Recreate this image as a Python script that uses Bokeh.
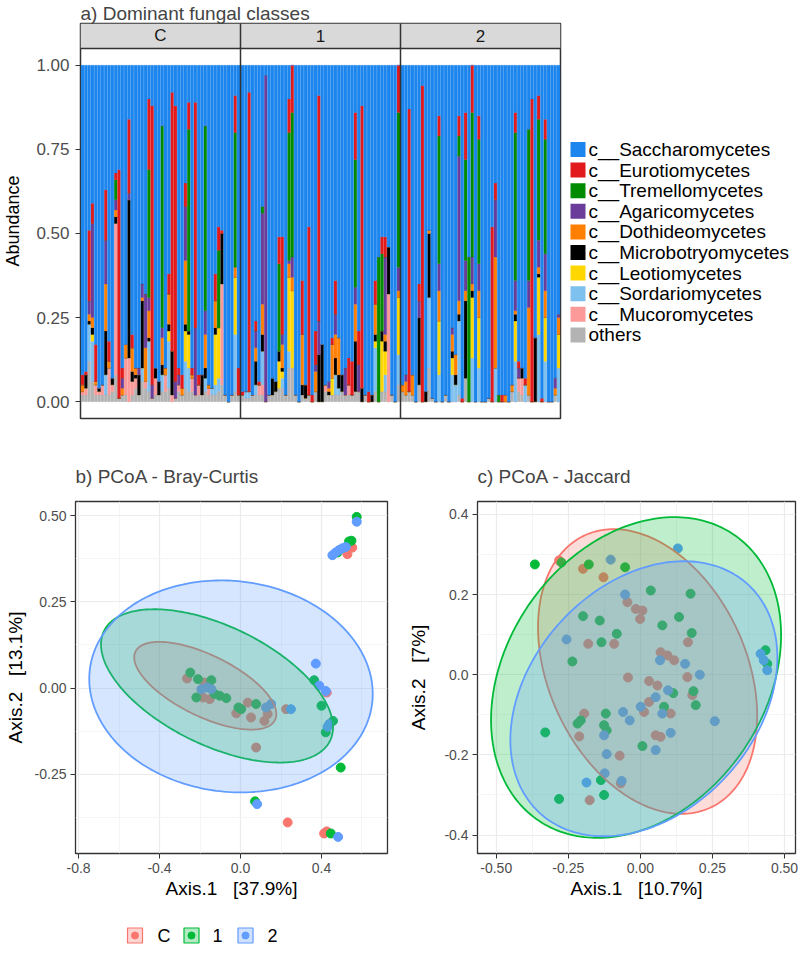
import numpy as np
from bokeh.plotting import figure
from bokeh.models import ColumnDataSource, Range1d, FixedTicker, PrintfTickFormatter
from bokeh.layouts import column, row
from bokeh.embed import file_html
from bokeh.resources import INLINE
from bokeh.core.properties import value

FONT = "Liberation Sans"

# ------------------------------------------------------------------ data: panel a
facets = ["C", "1", "2"]
class_keys = ["oth", "muc", "sor", "leo", "mic", "dot", "aga", "tre", "eur", "sac"]
class_labels = ["others", "c__Mucoromycetes", "c__Sordariomycetes", "c__Leotiomycetes",
                "c__Microbotryomycetes", "c__Dothideomycetes", "c__Agaricomycetes",
                "c__Tremellomycetes", "c__Eurotiomycetes", "c__Saccharomycetes"]
class_colors = ["#B3B3B3", "#FB9A99", "#7EC0EE", "#FFD700", "#000000", "#FF7F00",
                "#6A3D9A", "#008B00", "#E31A1C", "#1C86EE"]

oth_C = [.02,.02,.12,.06,.02,.02,.02,.02,.02,.03, .08,.01,.02,.02,0,.02,.04,.02,.06,.04,
         .03,.01,.02,.02,.03,.03,.04,0,.01,.03, .02,.04,.03,.03,.02,.02,.02,.03,.02,.02,
         .02,.03,.05,.02,0,.02,.03,.02]
muc_C = [.01,.02,0,0,.03,.01,.03,0,.08,.02, .45,0,0,.11,.13,.04,.03,0,0,.02,
         0,0,.05,0,0,.05,0,.02,0,.02, 0,0,0,.04,0,.03,0,0,.02,0,
         0,0,.30,0,0,0,0,0]
sor_C = [0,0,.11,.12,0,0,0,.06,0,0, 0,0,0,0,0,0,0,0,.04,0,
         .15,0,0,0,.05,0,.14,0,0,0, 0,.08,.07,0,0,0,0,.04,0,.02,
         .03,.04,0,0,0,0,.17,0]
leo_C = [0,0,0,.02,0,0,0,0,0,0, 0,0,0,0,0,0,0,0,0,0,
         0,0,0,0,0,0,.03,0,0,0, 0,.09,.10,0,0,0,0,0,0,0,
         .15,.15,0,0,0,0,.17,0]
mic_C = [0,.04,.01,.02,0,.01,0,.13,0,.02, .02,0,0,0,.47,.03,.01,.06,.20,0,
         .01,0,.03,.04,.03,0,.02,.13,0,0, 0,.02,.01,0,0,0,.06,.03,0,0,
         .02,0,.15,0,0,0,0,0]
dot_C = [.02,0,.02,.03,.01,0,0,.14,.02,0, .02,0,.02,.04,0,.07,.02,0,.01,.10,
         .08,0,0,0,.08,.02,.09,0,0,0, .02,.19,0,.01,0,0,0,.10,.01,0,
         .08,0,0,0,0,0,.03,0]
aga_C = [0,0,.04,.28,0,0,0,.13,0,0, .03,0,.03,0,.02,0,0,.02,.04,.16,
         .04,.04,0,0,.03,0,0,0,.05,.03, 0,.16,0,0,.20,0,0,.07,0,0,
         0,0,0,0,0,0,0,0]
tre_C = [0,0,0,0,0,0,0,0,0,0, .06,0,0,0,0,0,0,0,0,0,
         .38,0,0,0,.60,0,0,0,0,0, 0,0,.60,0,0,0,0,.55,0,0,
         0,.23,0,0,0,0,.40,0]
eur_C = [.03,.01,.21,.06,.11,0,0,.15,.06,0, .02,.68,.03,0,.22,.04,0,0,0,0,
         .21,.83,0,0,0,0,.06,.77,.82,.02, .04,.07,.08,.02,.67,.03,0,0,0,0,
         .08,.07,.01,0,0,0,.11,.08]

oth_1 = [.02,.01,.01,.02,.02,.02,.02,0,.02,.02, .03,.04,.04,.02,.10,.10,.02,0,.02,.01,
         .02,0,.03,0,0,.03,.02,.02,.02,.02, .03,.02,.02,.02,.03,.03,0,.02,0,0,
         .03,0,.03,.03,0,.02,0,.05]
muc_1 = [0,0,0,0,0,.03,.03,0,0,0, 0,0,0,0,0,0,0,0,0,0,
         0,0,0,0,0,.02,0,0,0,0, 0,0,.03,0,0,0,0,0,0,0,
         0,0,0,0,.32,0,0,0]
sor_1 = [0,.02,.02,0,.03,0,.10,0,0,0, 0,0,.03,0,.05,0,0,0,0,0,
         0,0,0,0,0,0,0,0,.06,.02, 0,0,0,0,0,0,0,0,0,0,
         .13,0,0,.05,0,0,0,.09]
leo_1 = [0,0,0,0,0,0,0,0,0,0, 0,.08,.02,0,.22,.23,0,0,0,0,
         0,0,0,0,0,0,0,.05,0,0, 0,0,0,0,0,0,0,0,0,0,
         .02,0,.15,.07,0,0,0,.17]
mic_1 = [0,0,0,0,.07,0,.05,0,0,.05, .03,.03,.01,0,0,0,0,0,.03,.04,
         0,0,0,.14,.17,0,.01,0,.05,.04, .05,0,0,0,.15,0,.04,0,0,.02,
         .02,0,.03,.03,.14,0,0,0]
dot_1 = [0,0,0,0,.04,0,.09,0,0,0, 0,0,.07,0,.04,.04,0,0,.15,0,
         0,0,.06,0,0,0,.01,.10,.07,.11, 0,0,0,0,.11,0,0,0,0,0,
         .09,0,0,.02,0,0,0,.02]
aga_1 = [0,0,0,0,.05,0,.27,.97,0,0, 0,0,.03,0,.01,.06,0,0,0,0,
         0,0,.02,.10,0,0,.02,0,.06,0, 0,.08,0,0,.05,.08,0,0,0,0,
         0,0,0,.23,0,0,0,.07]
tre_1 = [0,0,0,0,0,0,.02,0,0,0, 0,.26,0,0,.38,.43,0,0,0,0,
         0,0,0,0,0,0,0,0,0,0, 0,0,0,0,.38,0,0,0,0,0,
         0,.43,.23,0,0,0,0,.46]
eur_1 = [.01,0,.89,0,.03,.01,0,0,0,0, 0,.08,.29,0,.10,.14,0,0,.16,0,
         .50,.02,.10,.67,0,0,0,.02,.10,0, 0,0,.08,.10,.14,.10,.84,0,.03,0,
         .07,0,.05,.06,0,0,0,.14]

oth_2 = [.03,.02,.03,.02,0,.05,0,0,.10,.01, 0,0,0,.02,0,0,0,.02,0,.07,
         0,0,0,0,0,0,.01,0,0,0, 0,0,0,.03,0,.03,.02,0,.02,0,
         0,0,0,0,0,0,.02,0]
muc_2 = [0,0,0,0,0,0,0,0,0,0, 0,0,0,0,0,0,0,0,0,0,
         0,0,0,0,0,0,0,0,0,0, 0,0,0,0,0,.04,.05,0,0,0,
         0,0,0,0,0,0,0,0]
sor_2 = [0,0,0,0,0,0,0,0,.21,0, 0,.08,0,0,0,.08,.05,.22,0,0,
         0,.13,0,.10,0,0,0,0,.10,0, 0,0,0,0,.12,0,0,.05,0,0,
         0,.20,0,.12,0,0,0,.10]
leo_2 = [0,0,0,0,0,0,0,0,0,0, 0,.16,0,0,0,.05,0,0,0,0,
         0,.18,0,.15,0,0,0,0,0,0, 0,0,0,0,.12,0,0,0,0,0,
         0,.17,0,.13,0,0,0,.10]
mic_2 = [0,0,0,0,0,.20,0,.03,.19,0, 0,0,0,0,0,.02,.03,.02,0,.23,
         0,.02,0,0,0,0,0,0,0,0, 0,0,0,0,.02,0,.03,0,0,0,
         .19,.01,0,0,0,0,0,0]
dot_2 = [.02,.04,0,.06,0,0,0,0,.01,0, 0,.09,0,0,0,.05,.06,.04,0,.03,
         0,.02,0,.08,0,0,0,0,.33,0, 0,.02,0,.02,.01,0,0,0,.26,0,
         0,.02,0,.08,0,0,.02,.05]
aga_2 = [0,.02,0,0,0,.05,0,0,0,0, 0,.08,0,0,0,.02,0,.43,0,.09,
         0,.08,0,.08,0,0,0,0,.17,0, 0,0,0,0,.09,.03,0,0,.08,0,
         0,.08,0,.11,0,0,.03,.01]
tre_2 = [0,0,0,0,0,0,0,0,0,0, 0,.38,0,0,0,0,0,.06,0,.30,
         .43,.43,0,.37,0,0,0,0,0,.02, 0,0,0,0,.44,0,0,0,.45,0,
         0,.36,0,.34,0,0,0,0]
eur_2 = [0,0,.84,0,0,.05,.94,0,0,0, 0,.06,0,0,0,0,0,.06,.01,.14,
         0,.14,0,.07,0,0,0,.52,.05,0, .02,0,0,0,.06,.02,0,.02,0,.90,
         0,.07,.01,.06,0,0,0,0]

# ------------------------------------------------------------------ data: panels b, c
groups = ["C", "1", "2"]
group_colors = ["#F8766D", "#00BA38", "#619CFF"]

bc_x_C = [0.528,0.552,-0.264,-0.177,-0.185,-0.152,-0.021,0.036,0.052,0.118,0.134,0.225,0.077,0.426,0.233,0.413,0.426]
bc_y_C = [0.388,0.407,0.028,0.016,-0.027,-0.032,-0.073,-0.042,-0.085,-0.095,-0.075,-0.061,-0.172,-0.013,-0.389,-0.421,-0.415]
bc_x_1 = [0.574,0.548,0.536,0.479,-0.248,-0.210,-0.218,-0.144,-0.128,-0.103,-0.070,-0.010,0.003,0.077,0.364,0.400,0.457,0.421,0.495,0.072,0.446]
bc_y_1 = [0.496,0.427,0.425,0.393,0.045,0.026,-0.027,0.023,-0.017,-0.022,-0.029,-0.056,-0.061,-0.046,0.023,-0.051,-0.095,-0.128,-0.230,-0.328,-0.421]
bc_x_2 = [0.574,0.454,0.470,0.487,0.503,0.520,-0.193,-0.164,-0.144,0.126,0.151,0.249,0.372,0.389,0.421,0.430,0.438,0.082,0.482]
bc_y_2 = [0.482,0.385,0.393,0.400,0.405,0.409,-0.003,0.002,-0.003,-0.056,-0.046,-0.061,0.071,0.007,-0.008,-0.112,-0.104,-0.336,-0.431]

jac_x_C = [-0.282,-0.199,-0.128,-0.045,-0.016,0.007,-0.001,-0.181,-0.091,0.165,0.070,0.094,0.117,-0.043,
           0.030,0.059,0.163,0.180,0.030,0.013,0.105,-0.195,-0.212,0.053,0.070,-0.072,-0.176,-0.068]
jac_y_C = [0.285,0.264,0.243,0.181,0.164,0.160,0.139,0.077,0.077,0.081,0.056,0.048,0.036,-0.007,
           -0.016,-0.027,-0.006,-0.051,-0.068,-0.093,-0.097,-0.097,-0.154,-0.151,-0.155,-0.202,-0.313,-0.271]
jac_x_1 = [-0.366,-0.274,-0.179,-0.053,0.036,0.174,-0.199,-0.141,-0.082,-0.135,-0.236,0.076,0.134,0.178,0.434,
           0.440,0.184,0.192,0.082,0.114,-0.120,-0.218,-0.207,-0.126,-0.117,-0.330,0.007,-0.137,-0.126,-0.282]
jac_y_1 = [0.275,0.280,0.275,0.268,0.210,0.202,0.146,0.135,0.102,0.081,0.033,0.123,0.144,0.104,0.061,
           0.027,-0.041,-0.076,-0.080,-0.046,-0.097,-0.122,-0.114,-0.126,-0.139,-0.144,-0.178,-0.263,-0.300,-0.310]
jac_x_2 = [-0.103,0.130,-0.053,-0.256,0.068,0.155,0.206,0.417,0.428,0.440,0.096,0.053,-0.060,-0.037,0.001,
           0.076,0.258,-0.126,0.105,-0.117,0.053,-0.187,-0.124,-0.065]
jac_y_2 = [0.287,0.315,0.200,0.088,0.036,0.027,0.000,0.052,0.036,0.011,-0.039,-0.056,-0.093,-0.114,-0.080,
           -0.097,-0.116,-0.151,-0.145,-0.198,-0.188,-0.269,-0.246,-0.265]

# ellipse summaries: centre x, centre y, x half-extent, y half-extent, correlation
bc_ellipse_C = [-0.174, 0.007, 0.351, 0.127, -0.646]
bc_ellipse_1 = [-0.116, 0.0065, 0.573, 0.222, -0.54]
bc_ellipse_2 = [-0.047, 0.005, 0.700, 0.307, -0.07]
jac_ellipse_C = [0.025, 0.008, 0.380, 0.355, -0.31]
jac_ellipse_1 = [-0.015, -0.007, 0.503, 0.400, 0.265]
jac_ellipse_2 = [0.012, -0.060, 0.463, 0.343, 0.30]

# ------------------------------------------------------------------ panel a
facet_data = {
    "C": [oth_C, muc_C, sor_C, leo_C, mic_C, dot_C, aga_C, tre_C, eur_C],
    "1": [oth_1, muc_1, sor_1, leo_1, mic_1, dot_1, aga_1, tre_1, eur_1],
    "2": [oth_2, muc_2, sor_2, leo_2, mic_2, dot_2, aga_2, tre_2, eur_2],
}
n_bars = len(oth_C)
W = n_bars + 0.2
cols = {k: [] for k in class_keys}
xs = []
for fi, f in enumerate(facets):
    arrs = facet_data[f]
    for i in range(n_bars):
        xs.append(fi * W + i + 0.6)
        tot = 0.0
        for k, arr in zip(class_keys[:-1], arrs):
            cols[k].append(arr[i])
            tot += arr[i]
        cols["sac"].append(max(0.0, round(1.0 - tot, 4)))
src = ColumnDataSource(dict(x=xs, **cols))

YLO, YSTRIP = -0.05, 1.05
YTOP = 1.1243
TOP_H = 442
PA_W = 562
FRAME_TOP, FRAME_BOT = 23, 418

pa = figure(width=PA_W, height=TOP_H, x_range=Range1d(0, 3 * W), y_range=Range1d(YLO, YTOP),
            x_axis_location=None, toolbar_location=None, output_backend="svg",
            min_border_left=79, min_border_right=2, min_border_top=FRAME_TOP,
            min_border_bottom=TOP_H - FRAME_BOT)
pa.grid.visible = False
pa.background_fill_color = "white"
pa.outline_line_color = "#333333"
pa.outline_line_width = 1.5

rs = pa.vbar_stack(class_keys, x="x", width=0.9, source=src,
                   fill_color=class_colors, line_color=class_colors, line_width=0.3)

# facet strips
pa.quad(left=[fi * W for fi in range(3)], right=[(fi + 1) * W for fi in range(3)],
        bottom=YSTRIP, top=YTOP, fill_color="#D9D9D9", line_color=None)
pa.text(x=[(fi + 0.5) * W for fi in range(3)], y=[(YSTRIP + YTOP) / 2] * 3, text=facets,
        text_align="center", text_baseline="middle", text_font=value(FONT),
        text_font_size="17px", text_color="#1A1A1A")
pa.segment(x0=[W, 2 * W], y0=[YLO, YLO], x1=[W, 2 * W], y1=[YTOP, YTOP],
           line_color="#333333", line_width=1.5)
pa.segment(x0=[0], y0=[YSTRIP], x1=[3 * W], y1=[YSTRIP], line_color="#333333", line_width=1.5)

ya = pa.yaxis[0]
ya.ticker = FixedTicker(ticks=[0, 0.25, 0.5, 0.75, 1.0])
ya.formatter = PrintfTickFormatter(format="%.2f")
ya.axis_line_color = None
ya.minor_tick_line_color = None
ya.major_tick_out = 5
ya.major_tick_in = 0
ya.major_tick_line_color = "#333333"
ya.major_label_text_font = FONT
ya.major_label_text_font_size = "17px"
ya.major_label_text_color = "#4D4D4D"
ya.major_label_standoff = 6
ya.axis_label = "Abundance"
ya.axis_label_text_font = FONT
ya.axis_label_text_font_size = "18px"
ya.axis_label_text_font_style = "normal"
ya.axis_label_text_color = "black"
ya.axis_label_standoff = 10

pa.title.text = "a) Dominant fungal classes"
pa.title.text_font = FONT
pa.title.text_font_size = "19px"
pa.title.text_font_style = "normal"
pa.title.align = "left"
pa.title.standoff = 0

# legend of panel a, drawn on its own small canvas; its frame is aligned with panel a's frame,
# so its y range is expressed in page pixels (downwards)
LEG_W = 800 - PA_W
pla = figure(width=LEG_W, height=TOP_H, x_range=Range1d(0, LEG_W),
             y_range=Range1d(FRAME_BOT, FRAME_TOP),
             toolbar_location=None, output_backend="svg", min_border=0, title=None,
             min_border_top=FRAME_TOP, min_border_bottom=TOP_H - FRAME_BOT,
             x_axis_location=None, y_axis_location=None)
pla.grid.visible = False
pla.outline_line_color = None
leg_order = list(reversed(range(len(class_keys))))
key_y = [149 + 20.6 * k for k in range(len(leg_order))]
pla.rect(x=[15.5] * len(leg_order), y=key_y, width=15, height=15,
         fill_color=[class_colors[j] for j in leg_order], line_color=None)
pla.text(x=[26] * len(leg_order), y=key_y, text=[class_labels[j] for j in leg_order],
         text_align="left", text_baseline="middle", text_font=value(FONT),
         text_font_size="19px", text_color="black")


# ------------------------------------------------------------------ panels b, c
def ellipse_xy(par):
    cx, cy, rx, ry, rho = par
    t = np.linspace(0, 2 * np.pi, 241)
    ex = cx + rx * np.cos(t)
    ey = cy + ry * (rho * np.cos(t) + np.sqrt(1 - rho ** 2) * np.sin(t))
    return ex.tolist(), ey.tolist()


BOT_H = 461


def pcoa(title, width, mbl, mbr, ylab_standoff, xr, yr, xt, xmin, xfmt, yt, ymin, yfmt,
         xlab, ylab, pts, ells):
    p = figure(width=width, height=BOT_H, x_range=Range1d(*xr), y_range=Range1d(*yr),
               toolbar_location=None, output_backend="svg",
               min_border_left=mbl, min_border_right=mbr, min_border_top=59, min_border_bottom=50)
    p.background_fill_color = "white"
    p.outline_line_color = "#333333"
    p.outline_line_width = 1.3
    p.xaxis.ticker = FixedTicker(ticks=xt, minor_ticks=xmin)
    p.yaxis.ticker = FixedTicker(ticks=yt, minor_ticks=ymin)
    p.xaxis.formatter = PrintfTickFormatter(format=xfmt)
    p.yaxis.formatter = PrintfTickFormatter(format=yfmt)
    p.xgrid.grid_line_color = "#EBEBEB"
    p.ygrid.grid_line_color = "#EBEBEB"
    p.xgrid.grid_line_width = 1.2
    p.ygrid.grid_line_width = 1.2
    p.xgrid.minor_grid_line_color = "#F3F3F3"
    p.ygrid.minor_grid_line_color = "#F3F3F3"
    p.xgrid.minor_grid_line_width = 0.8
    p.ygrid.minor_grid_line_width = 0.8
    for ax in (p.xaxis[0], p.yaxis[0]):
        ax.axis_line_color = None
        ax.minor_tick_line_color = None
        ax.major_tick_out = 5
        ax.major_tick_in = 0
        ax.major_tick_line_color = "#333333"
        ax.major_label_text_font = FONT
        ax.major_label_text_font_size = "14px"
        ax.major_label_text_color = "#4D4D4D"
        ax.major_label_standoff = 4
        ax.axis_label_text_font = FONT
        ax.axis_label_text_font_size = "19px"
        ax.axis_label_text_font_style = "normal"
        ax.axis_label_text_color = "black"
    p.xaxis[0].axis_label = xlab
    p.yaxis[0].axis_label = ylab
    p.xaxis[0].axis_label_standoff = 2
    p.yaxis[0].axis_label_standoff = ylab_standoff
    p.title.text = title
    p.title.text_font = FONT
    p.title.text_font_size = "19px"
    p.title.text_font_style = "normal"
    p.title.align = "left"
    p.title.standoff = 29
    for (x, y), col in zip(pts, group_colors):
        p.scatter(x, y, size=9, color=col)
    for par, col in zip(ells, group_colors):
        ex, ey = ellipse_xy(par)
        p.patch(ex, ey, fill_color=col, fill_alpha=0.25, line_color=col, line_width=1.8)
    return p


GAP = " \u00a0 "
pb = pcoa("b) PCoA - Bray-Curtis", 392, 75, 5, 6, (-0.815, 0.726), (-0.479, 0.5406),
          [-0.8, -0.4, 0.0, 0.4], [-0.6, -0.2, 0.2, 0.6], "%.1f",
          [-0.25, 0.0, 0.25, 0.5], [-0.375, -0.125, 0.125, 0.375], "%.2f",
          "Axis.1" + GAP + "[37.9%]", "Axis.2" + GAP + "[13.1%]",
          [(bc_x_C, bc_y_C), (bc_x_1, bc_y_1), (bc_x_2, bc_y_2)],
          [bc_ellipse_C, bc_ellipse_1, bc_ellipse_2])

pc = pcoa("c) PCoA - Jaccard", 408, 85, 5, 12, (-0.565, 0.538), (-0.446, 0.432),
          [-0.5, -0.25, 0.0, 0.25, 0.5], [-0.375, -0.125, 0.125, 0.375], "%.2f",
          [-0.4, -0.2, 0.0, 0.2, 0.4], [-0.3, -0.1, 0.1, 0.3], "%.1f",
          "Axis.1" + GAP + "[10.7%]", "Axis.2" + GAP + "[7%]",
          [(jac_x_C, jac_y_C), (jac_x_1, jac_y_1), (jac_x_2, jac_y_2)],
          [jac_ellipse_C, jac_ellipse_1, jac_ellipse_2])

# ------------------------------------------------------------------ shared legend (pixel canvas)
LEG_H = 978 - TOP_H - BOT_H
pl = figure(width=800, height=LEG_H, x_range=Range1d(0, 800), y_range=Range1d(LEG_H, 0),
            toolbar_location=None, output_backend="svg", min_border=0, title=None,
            x_axis_location=None, y_axis_location=None)
pl.grid.visible = False
pl.outline_line_color = None
key_x = [134.5, 191, 245]
lab_x = [157, 212, 267]
ky = 32
pl.rect(x=key_x, y=[ky] * 3, width=15, height=15, fill_color=group_colors, fill_alpha=0.3,
        line_color=group_colors, line_width=1.2)
pl.scatter(x=key_x, y=[ky] * 3, size=7, color=group_colors)
pl.text(x=lab_x, y=[ky] * 3, text=groups, text_align="left", text_baseline="middle",
        text_font=value(FONT), text_font_size="18px", text_color="black")

layout = column(row(pa, pla), row(pb, pc), pl)
open("out.html", "w").write(file_html(layout, INLINE))
